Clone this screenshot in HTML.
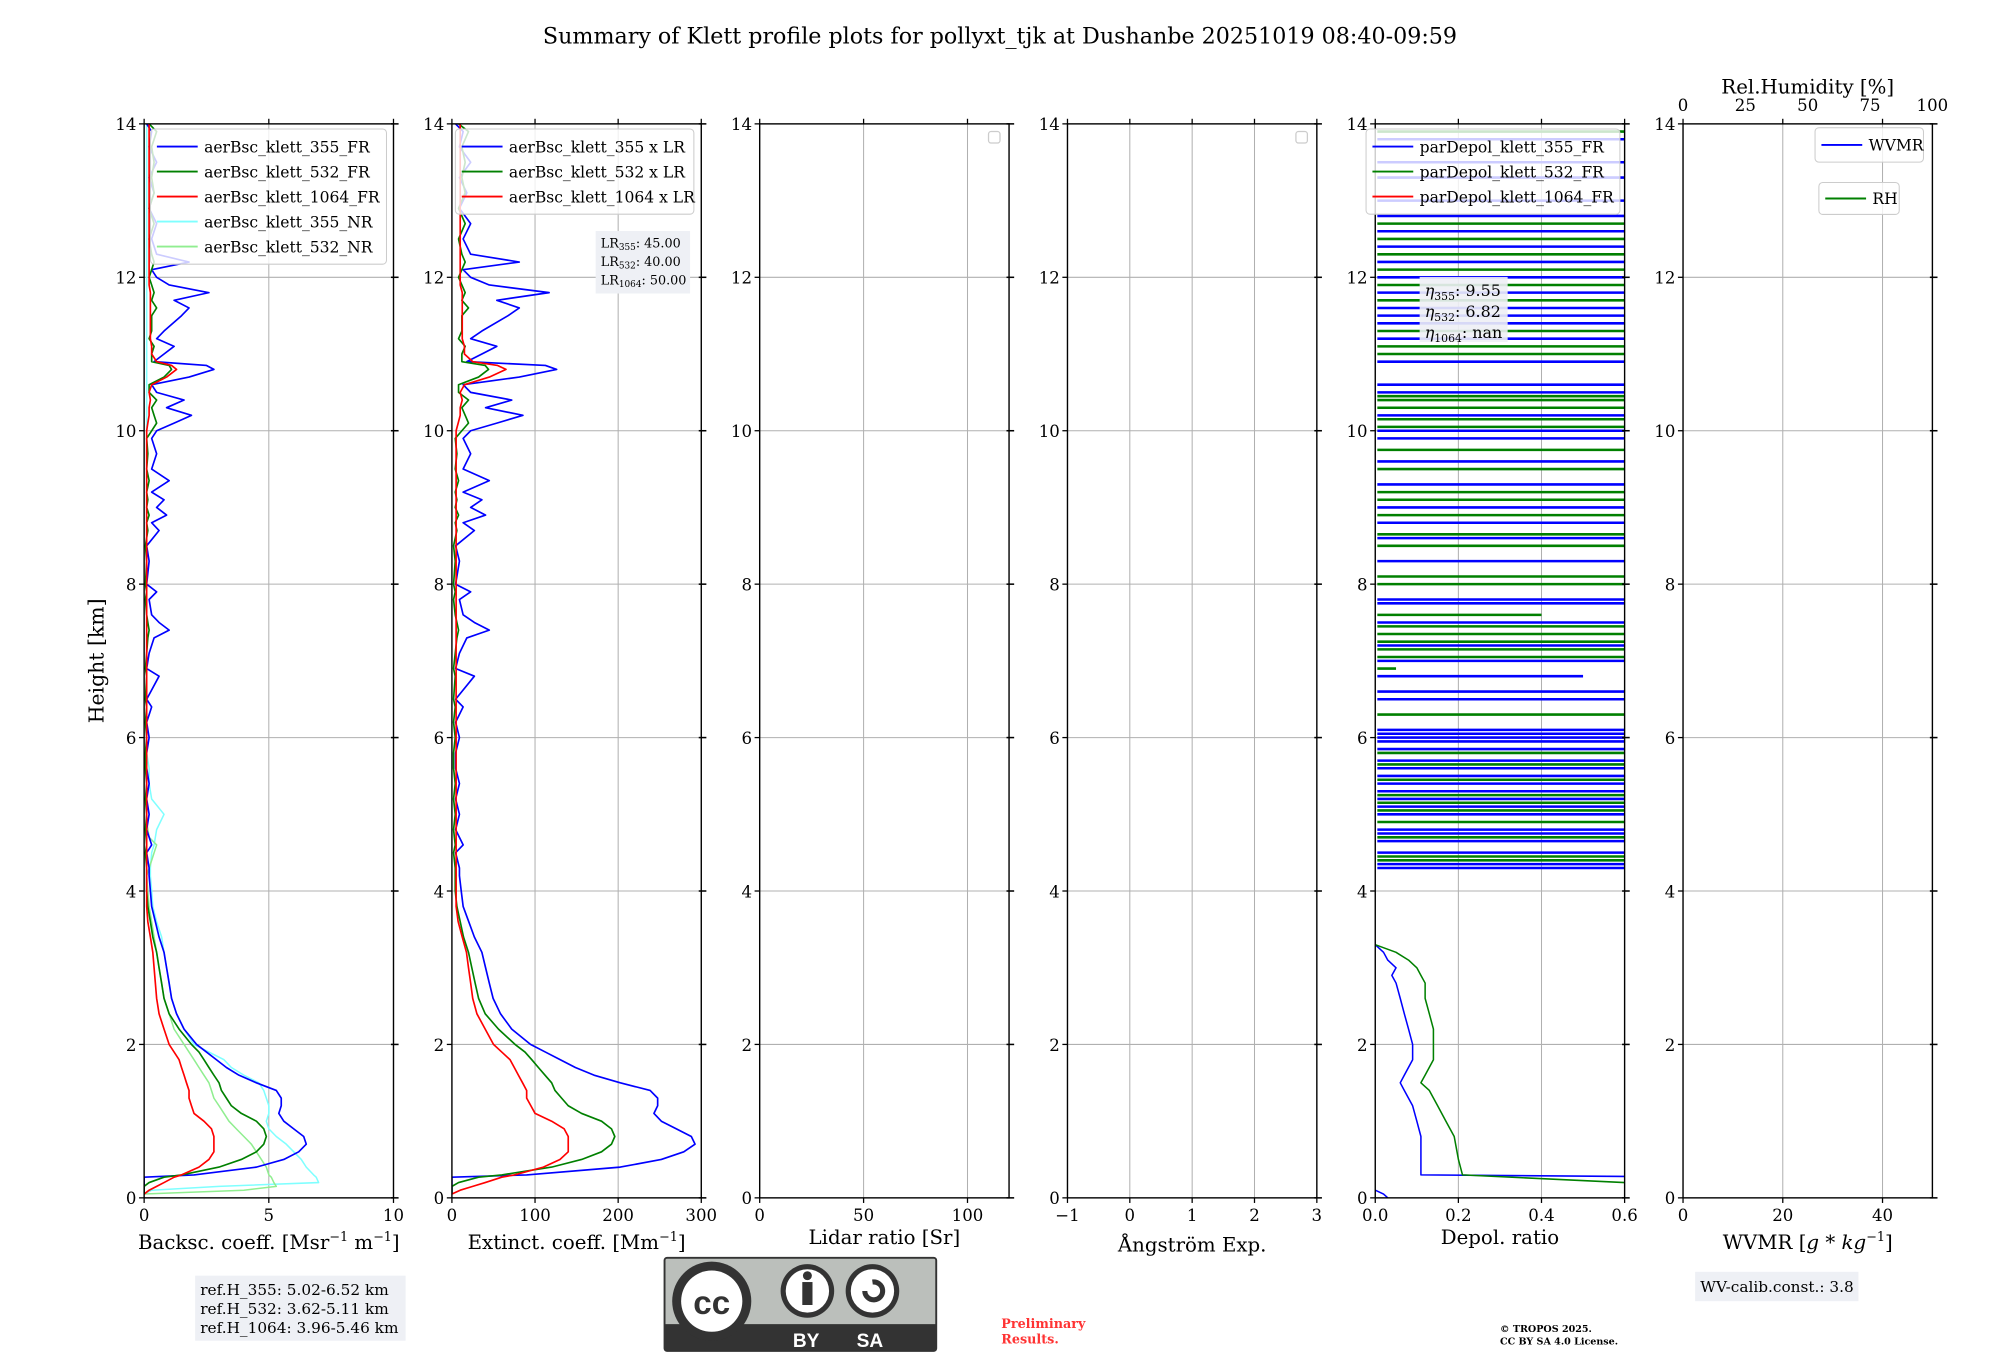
<!DOCTYPE html>
<html><head><meta charset="utf-8">
<style>
html,body{margin:0;padding:0;background:#fff;width:2000px;height:1360px;overflow:hidden}
svg{display:block;font-family:"DejaVu Serif","Liberation Serif",serif}
</style></head>
<body>
<svg id="fig" width="2000" height="1360" viewBox="0 0 1568 1066" xmlns="http://www.w3.org/2000/svg">
<rect width="1568" height="1066" fill="#fff"/>
<text x="784" y="34" font-size="17.4" text-anchor="middle">Summary of Klett profile plots for pollyxt_tjk at Dushanbe 20251019 08:40-09:59</text>
<g id="plots"></g>
<g>
<rect x="153" y="1000" width="165" height="51" fill="#eef0f5"/>
<text x="157" y="1015" font-size="12">ref.H_355: 5.02-6.52 km</text>
<text x="157" y="1030" font-size="12">ref.H_532: 3.62-5.11 km</text>
<text x="157" y="1045" font-size="12">ref.H_1064: 3.96-5.46 km</text>
</g>
<g>
<rect x="521" y="986" width="213" height="73" rx="2" fill="#bbbfbb" stroke="#333" stroke-width="1.5"/>
<rect x="521" y="1038" width="213" height="21" fill="#333"/>
<circle cx="558" cy="1020" r="31" fill="#333"/>
<circle cx="558" cy="1020" r="24" fill="#fff"/>
<text x="558" y="1030" font-family="Liberation Sans,sans-serif" font-weight="bold" font-size="26" text-anchor="middle" fill="#333">cc</text>
<circle cx="633" cy="1012" r="21" fill="#333"/><circle cx="633" cy="1012" r="17" fill="#fff"/>
<circle cx="633" cy="1000" r="3.5" fill="#333"/><rect x="629" y="1005" width="8" height="18" fill="#333"/>
<circle cx="684" cy="1012" r="21" fill="#333"/><circle cx="684" cy="1012" r="17" fill="#fff"/>
<path d="M678 1012 a7 7 0 1 0 6 -7" fill="none" stroke="#333" stroke-width="4"/>
<text x="632" y="1056" font-family="Liberation Sans,sans-serif" font-weight="bold" font-size="15" fill="#fff" text-anchor="middle">BY</text>
<text x="682" y="1056" font-family="Liberation Sans,sans-serif" font-weight="bold" font-size="15" fill="#fff" text-anchor="middle">SA</text>
</g>
<text font-size="10" font-weight="bold" fill="#ff3333"><tspan x="785" y="1041">Preliminary</tspan><tspan x="785" y="1053">Results.</tspan></text>
<text font-size="7.5" font-weight="bold"><tspan x="1176" y="1044">© TROPOS 2025.</tspan><tspan x="1176" y="1054">CC BY SA 4.0 License.</tspan></text>
<g>
<rect x="1329" y="997" width="128" height="23" fill="#eef0f5"/>
<text x="1333" y="1013" font-size="12">WV-calib.const.: 3.8</text>
</g>
</svg>
<script>
// ---------- data ----------
const hLow = [0.05,0.1,0.15,0.2,0.27,0.3,0.4,0.5,0.6,0.7,0.8,0.9,1.0,1.1,1.2,1.3,1.4,1.5,1.6,1.7,1.8,1.9,2.0,2.2,2.4,2.6,2.8,3.0,3.2,3.4,3.6,3.8,4.0,4.2];
const bsc355Low = [0,0,0,0,0,2.0,4.5,5.6,6.2,6.5,6.4,6.0,5.6,5.4,5.5,5.5,5.3,4.5,3.8,3.3,2.9,2.5,2.1,1.6,1.3,1.1,1.0,0.9,0.8,0.6,0.45,0.3,0.25,0.2];
const bsc532Low = [0,0,0,0.2,0.8,1.5,3.0,3.9,4.5,4.8,4.9,4.8,4.5,3.9,3.5,3.3,3.1,3.0,2.8,2.6,2.4,2.2,1.9,1.4,1.0,0.8,0.7,0.6,0.5,0.35,0.25,0.15,0.1,0.1];
const bsc1064Low = [0,0.2,0.5,0.8,1.2,1.5,2.2,2.6,2.8,2.8,2.8,2.7,2.4,2.0,1.9,1.8,1.8,1.7,1.6,1.5,1.4,1.2,1.0,0.8,0.6,0.5,0.45,0.4,0.35,0.25,0.15,0.1,0.1,0.1];
const bsc355NRLow = [0,0.3,3.0,7.0,6.9,6.8,6.5,6.3,6.0,5.7,5.3,5.0,4.9,5.0,5.0,4.9,4.8,4.6,4.0,3.5,3.2,2.6,2.0,1.6,1.3,1.1,1.0,0.9,0.8,0.7,0.5,0.35,0.3,0.25];
const bsc532NRLow = [0,4.0,5.3,5.2,5.1,5.0,4.9,4.7,4.5,4.3,4.0,3.7,3.4,3.2,3.0,2.8,2.7,2.6,2.4,2.2,2.0,1.8,1.6,1.2,1.0,0.8,0.7,0.6,0.5,0.4,0.3,0.2,0.15,0.1];
const hUp = [4.3,4.5,4.6,4.8,5.0,5.2,5.4,5.6,5.8,6.0,6.2,6.4,6.5,6.8,6.9,7.1,7.3,7.4,7.5,7.6,7.8,7.9,8.0,8.3,8.5,8.7,8.8,8.9,9.0,9.1,9.2,9.35,9.5,9.7,9.9,10.0,10.1,10.2,10.3,10.4,10.5,10.6,10.7,10.8,10.85,10.9,11.0,11.1,11.2,11.3,11.5,11.6,11.7,11.8,11.9,12.0,12.1,12.2,12.3,12.5,12.7,12.9,13.1,13.3,13.5,13.7,13.9,14.0];
const bsc355Up = [0.2,0.1,0.3,0.1,0.2,0.1,0.2,0.1,0.1,0.2,0.1,0.3,0.1,0.6,0.1,0.2,0.4,1.0,0.6,0.3,0.2,0.5,0.1,0.2,0.1,0.6,0.3,0.9,0.5,0.8,0.3,1.0,0.3,0.5,0.3,0.5,1.2,1.9,0.9,1.6,0.5,0.3,1.8,2.8,2.5,0.4,0.8,1.2,0.5,0.8,1.5,1.8,1.2,2.6,1.0,0.5,0.3,1.8,0.5,0.3,0.5,0.2,0.4,0.2,0.5,0.2,0.3,0.1];
const bsc532Up = [0.1,0.05,0.1,0.05,0.1,0.05,0.1,0.05,0.05,0.1,0.05,0.1,0.05,0.1,0.05,0.1,0.15,0.2,0.15,0.1,0.05,0.1,0.05,0.1,0.05,0.15,0.1,0.2,0.1,0.15,0.1,0.2,0.1,0.15,0.1,0.3,0.5,0.4,0.3,0.5,0.2,0.2,0.8,1.1,1.0,0.3,0.3,0.4,0.2,0.3,0.3,0.5,0.3,0.4,0.3,0.2,0.3,0.4,0.3,0.2,0.4,0.2,0.4,0.3,0.4,0.3,0.5,0.2];
const bsc1064Up = [0.1,0.1,0.1,0.1,0.1,0.1,0.1,0.1,0.1,0.1,0.1,0.1,0.1,0.1,0.1,0.1,0.1,0.1,0.1,0.1,0.1,0.1,0.1,0.1,0.1,0.1,0.1,0.1,0.1,0.1,0.1,0.1,0.1,0.1,0.1,0.1,0.15,0.2,0.2,0.25,0.2,0.3,0.9,1.3,1.1,0.5,0.3,0.3,0.25,0.25,0.25,0.25,0.25,0.25,0.2,0.2,0.2,0.2,0.2,0.2,0.2,0.2,0.2,0.2,0.2,0.2,0.2,0.2];
const bsc355NRUp = [0.25,0.3,0.4,0.5,0.8,0.3,0.2,0.2,0.1,0.1,0.1,0.1,0.1,0.1,0.1,0.1,0.1,0.1,0.1,0.1,0.1,0.1,0.1,0.1,0.1,0.1,0.1,0.1,0.1,0.1,0.1,0.1,0.1,0.1,0.1,0.1,0.1,0.1,0.1,0.1,0.1,0.1,0.1,0.1,0.1,0.1,0.1,0.1,0.1,0.1,0.1,0.1,0.1,0.1,0.1,0.1,0.1,0.1,0.1,0.1,0.1,0.1,0.1,0.1,0.1,0.1,0.1,0.1];
const LR = [45, 40, 50];
const hDep = [0.28,0.3,0.5,0.8,1.0,1.2,1.4,1.5,1.6,1.8,2.0,2.2,2.4,2.6,2.8,2.9,3.0,3.1,3.2,3.3];
const dep355 = [0.6,0.11,0.11,0.11,0.10,0.09,0.07,0.06,0.07,0.09,0.09,0.08,0.07,0.06,0.05,0.04,0.05,0.03,0.02,0];
const dep532 = [0.6,0.21,0.20,0.19,0.17,0.15,0.13,0.11,0.12,0.14,0.14,0.14,0.13,0.12,0.12,0.11,0.10,0.08,0.05,0];
const depLines355 = [4.3,4.35,4.5,4.65,4.75,4.8,5.0,5.1,5.2,5.3,5.4,5.5,5.6,5.7,5.85,5.95,6.0,6.05,6.1,6.5,6.6,6.8,7.0,7.2,7.5,7.75,7.8,8.3,8.6,8.8,9.0,9.3,9.6,9.9,10.0,10.2,10.5,10.6,10.9,11.2,11.4,11.5,11.6,11.8,12.0,12.2,12.4,12.6,12.8,13.0,13.3,13.5,13.8];
const depLen355 = [0.6,0.6,0.6,0.6,0.6,0.6,0.6,0.6,0.6,0.6,0.6,0.6,0.6,0.6,0.6,0.6,0.6,0.6,0.6,0.6,0.6,0.5,0.6,0.6,0.6,0.6,0.6,0.6,0.6,0.6,0.6,0.6,0.6,0.6,0.6,0.6,0.6,0.6,0.6,0.6,0.6,0.6,0.6,0.6,0.6,0.6,0.6,0.6,0.6,0.6,0.6,0.6,0.6];
const depLines532 = [4.4,4.45,4.7,4.9,5.05,5.15,5.25,5.45,5.65,5.8,6.3,6.9,7.05,7.15,7.25,7.35,7.45,7.6,8.0,8.1,8.5,8.65,8.9,9.1,9.2,9.5,9.75,10.05,10.15,10.3,10.4,10.45,11.0,11.1,11.3,11.7,11.9,12.1,12.3,12.5,12.7,13.9];
const depLen532 = [0.6,0.6,0.6,0.6,0.6,0.6,0.6,0.6,0.6,0.6,0.6,0.05,0.6,0.6,0.6,0.6,0.6,0.4,0.6,0.6,0.6,0.6,0.6,0.6,0.6,0.6,0.6,0.6,0.6,0.6,0.6,0.6,0.6,0.6,0.6,0.6,0.6,0.6,0.6,0.6,0.6,0.6];

// ---------- layout ----------
const NS = "http://www.w3.org/2000/svg";
const root = document.getElementById('plots');
const Y0 = 939, Y1 = 97, HMAX = 14;
const PW = 195.5, PSTEP = 241.3, PX0 = 113;
function yS(h){ return Y0 - (h/HMAX)*(Y0-Y1); }
function mk(tag, attrs, parent){ const e=document.createElementNS(NS,tag); for(const k in attrs) e.setAttribute(k,attrs[k]); (parent||root).appendChild(e); return e; }
const panels = [
 {xmin:0,xmax:10,ticks:[0,5,10],lab:['0','5','10'],xl:'Backsc. coeff. [Msr<tspan dy="-6" font-size="10">−1</tspan><tspan dy="6"> m</tspan><tspan dy="-6" font-size="10">−1</tspan><tspan dy="6">]</tspan>',name:'backscatter'},
 {xmin:0,xmax:300,ticks:[0,100,200,300],lab:['0','100','200','300'],xl:'Extinct. coeff. [Mm<tspan dy="-6" font-size="10">−1</tspan><tspan dy="6">]</tspan>',name:'extinction'},
 {xmin:0,xmax:120,ticks:[0,50,100],lab:['0','50','100'],xl:'Lidar ratio [Sr]',name:'lidar-ratio'},
 {xmin:-1,xmax:3,ticks:[-1,0,1,2,3],lab:['−1','0','1','2','3'],xl:'Ångström Exp.',name:'angstrom'},
 {xmin:0,xmax:0.6,ticks:[0,0.2,0.4,0.6],lab:['0.0','0.2','0.4','0.6'],xl:'Depol. ratio',name:'depol'},
 {xmin:0,xmax:50,ticks:[0,20,40],lab:['0','20','40'],xl:'WVMR [<tspan font-style="italic">g</tspan> * <tspan font-style="italic">kg</tspan><tspan dy="-6" font-size="10">−1</tspan><tspan dy="6">]</tspan>',name:'wvmr'}
];
const xlY = [Y0+40, Y0+40, Y0+36, Y0+42, Y0+36, Y0+40];
const xs = [];
panels.forEach((p,i)=>{
  const x0 = PX0 + i*PSTEP, x1 = x0+PW;
  const xS = v => x0 + (v-p.xmin)/(p.xmax-p.xmin)*PW;
  xs.push(xS);
  const g = mk('g',{});
  
  
  p.g = g;
  const cp = mk('clipPath',{id:'cp'+i},g); mk('rect',{x:x0,y:Y1,width:PW,height:Y0-Y1},cp);
  for(let h=2;h<=12;h+=2){ const l=mk('line',{x1:x0,x2:x1,y1:yS(h),y2:yS(h),stroke:'#b0b0b0','stroke-width':0.8},g);
      }
  p.ticks.forEach(t=>{ if(t!==p.xmin && t!==p.xmax){ const l=mk('line',{x1:xS(t),x2:xS(t),y1:Y1,y2:Y0,stroke:'#b0b0b0','stroke-width':0.8},g);
      }});
  p.data = mk('g',{'clip-path':'url(#cp'+i+')'},g);
  for(let h=0;h<=14;h+=2){
    mk('line',{x1:x0-4,x2:x0,y1:yS(h),y2:yS(h),stroke:'#000','stroke-width':1},g);
    mk('line',{x1:x1-2,x2:x1+4,y1:yS(h),y2:yS(h),stroke:'#000','stroke-width':1.2},g);
    const t=mk('text',{x:x0-6,y:yS(h)+5,'font-size':13,'text-anchor':'end'},g); t.textContent=h;
     
  }
  p.ticks.forEach((t,k)=>{
    mk('line',{x1:xS(t),x2:xS(t),y1:Y0,y2:Y0+4,stroke:'#000'},g);
    mk('line',{x1:xS(t),x2:xS(t),y1:Y1,y2:Y1-4,stroke:'#000'},g);
    const tx=mk('text',{x:xS(t),y:Y0+18,'font-size':13,'text-anchor':'middle'},g); tx.textContent=p.lab[k];
     
  });
  const xl=mk('text',{x:(x0+x1)/2,y:xlY[i],'font-size':15.5,'text-anchor':'middle'},g); xl.innerHTML=p.xl;
   
  p.frame = [x0,x1];
});
const yt = mk('text',{x:0,y:0,'font-size':16,'text-anchor':'middle',transform:'translate(81,518) rotate(-90)'});
yt.textContent='Height [km]';
 

function profile(parent, hs, vs, xS, color, w, name, op){
  const d = hs.map((h,k)=>(k?'L':'M')+xS(vs[k]).toFixed(1)+' '+yS(h).toFixed(1)).join(' ');
  const p = mk('path',{d:d,fill:'none',stroke:color,'stroke-width':w,'stroke-linejoin':'round','stroke-opacity':op||1},parent);
  
  
  return p;
}
const H = hLow.concat(hUp);
const B355 = bsc355Low.concat(bsc355Up), B532 = bsc532Low.concat(bsc532Up), B1064 = bsc1064Low.concat(bsc1064Up);
const B355NR = bsc355NRLow.concat(bsc355NRUp);
const hNR532 = hLow.concat([4.4,4.6,4.7,4.9]);
const B532NR = bsc532NRLow.concat([0.3,0.5,0.2,0.1]);
const d0 = panels[0].data;
profile(d0, H, B355NR, xs[0], '#7fffff', 1.2, 'line-aerbsc-355-nr');
profile(d0, hNR532, B532NR, xs[0], '#90ee90', 1.2, 'line-aerbsc-532-nr');
profile(d0, H, B355, xs[0], '#0000ff', 1.3, 'line-aerbsc-355-fr');
profile(d0, H, B532, xs[0], '#008000', 1.3, 'line-aerbsc-532-fr');
profile(d0, H, B1064, xs[0], '#ff0000', 1.3, 'line-aerbsc-1064-fr');
const d1 = panels[1].data;
profile(d1, H, B355.map(v=>v*LR[0]), xs[1], '#0000ff', 1.3, 'line-ext-355');
profile(d1, H, B532.map(v=>v*LR[1]), xs[1], '#008000', 1.3, 'line-ext-532');
profile(d1, H, B1064.map(v=>v*LR[2]), xs[1], '#ff0000', 1.3, 'line-ext-1064');
const d4 = panels[4].data;
depLines355.forEach((h,k)=>{ const l=mk('line',{x1:xs[4](0.005),x2:xs[4](depLen355[k]),y1:yS(h),y2:yS(h),stroke:'#0000ff','stroke-width':2},d4);
    });
depLines532.forEach((h,k)=>{ const l=mk('line',{x1:xs[4](0.005),x2:xs[4](depLen532[k]),y1:yS(h),y2:yS(h),stroke:'#008000','stroke-width':2},d4);
    });
profile(d4, hDep, dep355, xs[4], '#0000ff', 1.2, 'line-depol-355');
profile(d4, [0.2].concat(hDep.slice(1)), [0.6].concat(dep532.slice(1)), xs[4], '#008000', 1.2, 'line-depol-532');
profile(d4, [0,0.05,0.1], [0.03,0.02,0], xs[4], '#0000ff', 1.2, 'line-depol-355-surface');
const p6 = panels[5]; const rhx = v => p6.frame[0] + v/100*PW;
[0,25,50,75,100].forEach(t=>{
  const tx=mk('text',{x:rhx(t),y:87,'font-size':13,'text-anchor':'middle'},p6.g); tx.textContent=t;
   
});
const rht=mk('text',{x:rhx(50),y:73,'font-size':15.5,'text-anchor':'middle'},p6.g); rht.textContent='Rel.Humidity [%]';
 
panels.forEach(p=>{ mk('rect',{x:p.frame[0],y:Y1,width:PW,height:Y0-Y1,fill:'none',stroke:'#000','stroke-width':1.1},p.g); });

function legend(x,y,w,entries,name,rowH,fs){
  const g=mk('g',{});
  
  
  mk('rect',{x:x,y:y,width:w,height:entries.length*rowH+8,rx:3,fill:'#fff','fill-opacity':0.8,stroke:'#ccc','stroke-width':0.8},g);
  entries.forEach((e,k)=>{
    const cy=y+4+rowH*(k+0.5);
    mk('line',{x1:x+5,x2:x+37,y1:cy,y2:cy,stroke:e[1],'stroke-width':1.5},g);
    const t=mk('text',{x:x+42,y:cy+4.5,'font-size':fs||12.2},g); t.textContent=e[0];
  });
}
legend(118,101,185,[['aerBsc_klett_355_FR','#0000ff'],['aerBsc_klett_532_FR','#008000'],['aerBsc_klett_1064_FR','#ff0000'],['aerBsc_klett_355_NR','#7fffff'],['aerBsc_klett_532_NR','#90ee90']],'legend-backscatter',19.6);
legend(357,101,187,[['aerBsc_klett_355 x LR','#0000ff'],['aerBsc_klett_532 x LR','#008000'],['aerBsc_klett_1064 x LR','#ff0000']],'legend-extinction',19.6);
legend(1071,101,199,[['parDepol_klett_355_FR','#0000ff'],['parDepol_klett_532_FR','#008000'],['parDepol_klett_1064_FR','#ff0000']],'legend-depol',19.6);
legend(1423,100,85,[['WVMR','#0000ff']],'legend-wvmr',19);
legend(1426,143,63,[['RH','#008000']],'legend-rh',17);
[[775,103],[1016,103]].forEach(p=>{ const r=mk('rect',{x:p[0],y:p[1],width:9,height:9,rx:2,fill:'#fff',stroke:'#ccc'});
    });
const lrg=mk('g',{});  
mk('rect',{x:467,y:181,width:74,height:49,fill:'#eef0f5'},lrg);
[['355','45.00'],['532','40.00'],['1064','50.00']].forEach((e,k)=>{ const t=mk('text',{x:471,y:194+k*14.5,'font-size':10},lrg);
  t.innerHTML='LR<tspan font-size="7" dy="2">'+e[0]+'</tspan><tspan dy="-2">: '+e[1]+'</tspan>'; });
const eg=mk('g',{});  
mk('rect',{x:1113,y:217,width:69,height:51,fill:'#eef0f5','fill-opacity':0.9},eg);
[['355','9.55'],['532','6.82'],['1064','nan']].forEach((e,k)=>{ const t=mk('text',{x:1117,y:232+k*16.5,'font-size':12.5},eg);
  t.innerHTML='<tspan font-style="italic">η</tspan><tspan font-size="8.5" dy="3">'+e[0]+'</tspan><tspan dy="-3">: '+e[1]+'</tspan>'; });
</script>
</body></html>
